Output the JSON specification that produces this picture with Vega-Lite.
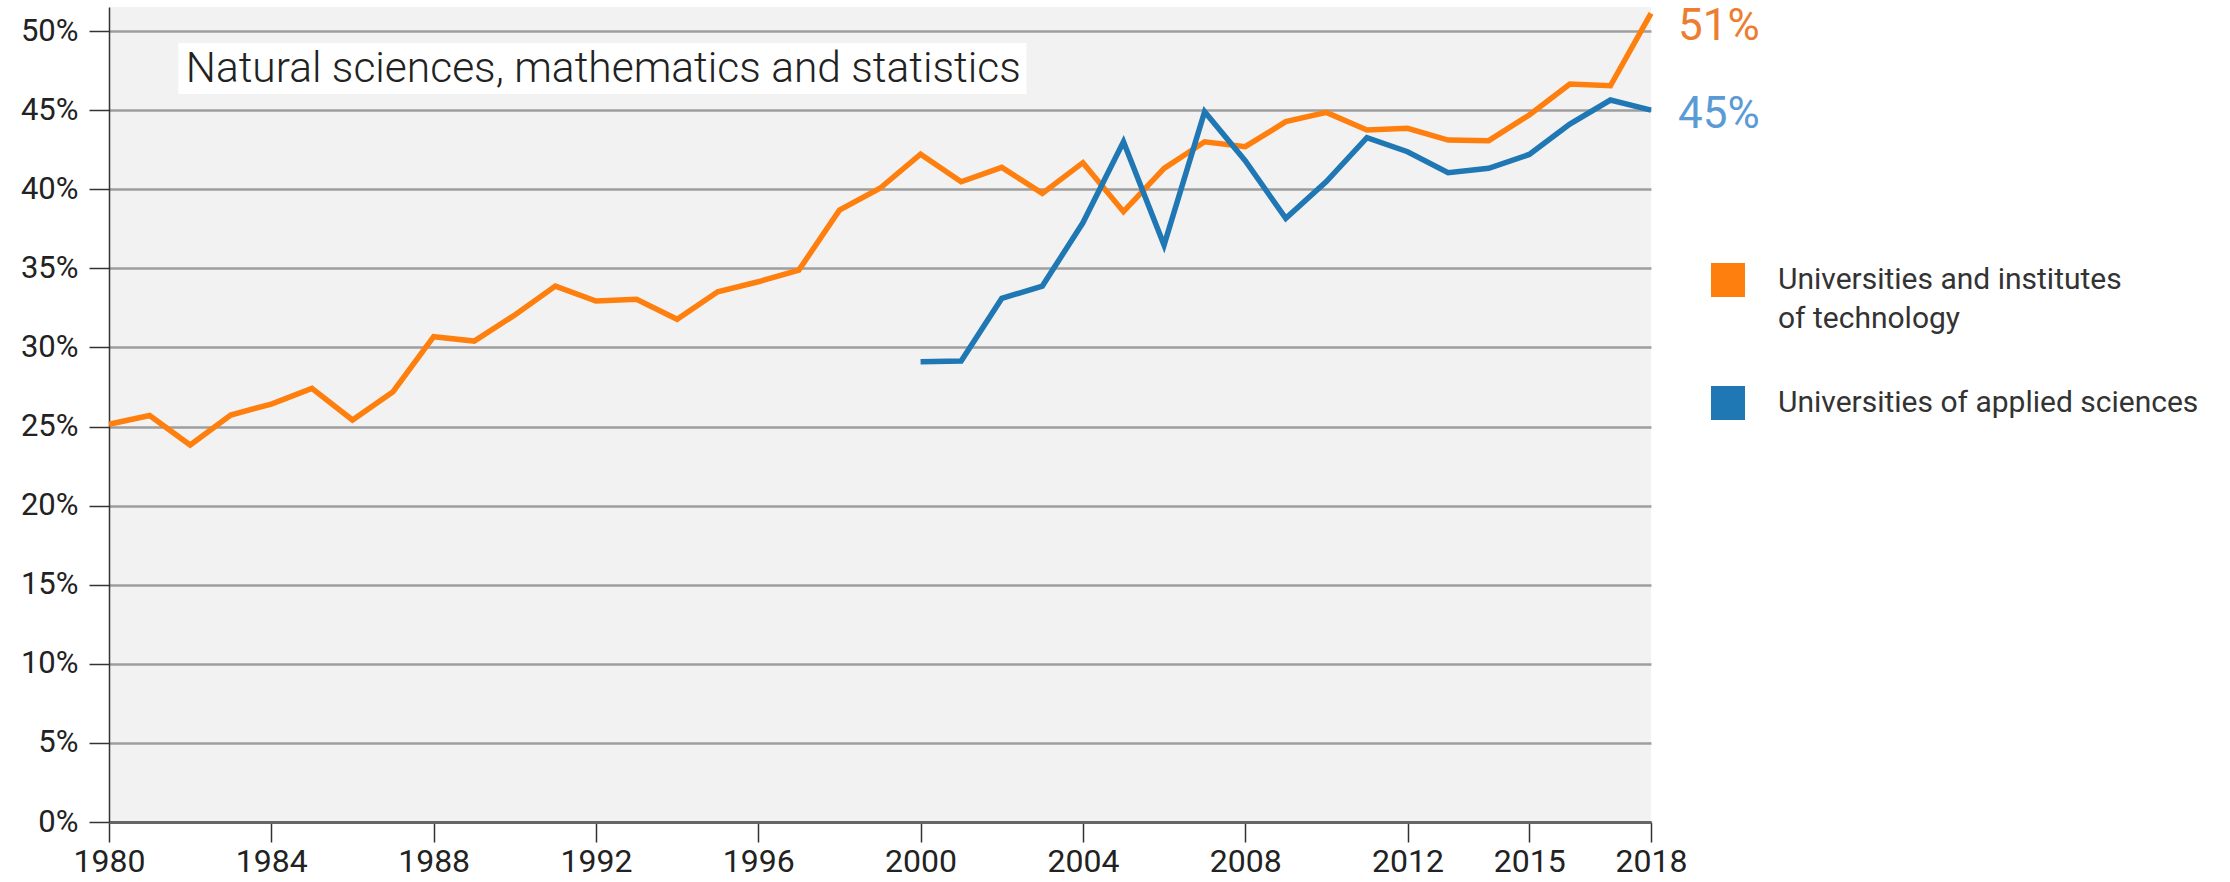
{
  "$schema": "https://vega.github.io/schema/vega-lite/v6.json",
  "width": 1542,
  "height": 815,
  "autosize": {"type": "none"},
  "padding": {"left": 109, "top": 7, "right": 579, "bottom": 60},
  "background": "white",
  "config": {
    "font": "Roboto",
    "view": {"fill": "#F2F2F2", "stroke": null},
    "style": {"guide-label": {"lineHeight": 39}}
  },
  "data": {
    "values": [
      {"year": 1980, "series": "Universities and institutes of technology", "share": 0.2514},
      {"year": 1981, "series": "Universities and institutes of technology", "share": 0.2570},
      {"year": 1982, "series": "Universities and institutes of technology", "share": 0.2383},
      {"year": 1983, "series": "Universities and institutes of technology", "share": 0.2573},
      {"year": 1984, "series": "Universities and institutes of technology", "share": 0.2642},
      {"year": 1985, "series": "Universities and institutes of technology", "share": 0.2741},
      {"year": 1986, "series": "Universities and institutes of technology", "share": 0.2541},
      {"year": 1987, "series": "Universities and institutes of technology", "share": 0.2720},
      {"year": 1988, "series": "Universities and institutes of technology", "share": 0.3068},
      {"year": 1989, "series": "Universities and institutes of technology", "share": 0.3040},
      {"year": 1990, "series": "Universities and institutes of technology", "share": 0.3205},
      {"year": 1991, "series": "Universities and institutes of technology", "share": 0.3388},
      {"year": 1992, "series": "Universities and institutes of technology", "share": 0.3293},
      {"year": 1993, "series": "Universities and institutes of technology", "share": 0.3305},
      {"year": 1994, "series": "Universities and institutes of technology", "share": 0.3178},
      {"year": 1995, "series": "Universities and institutes of technology", "share": 0.3352},
      {"year": 1996, "series": "Universities and institutes of technology", "share": 0.3415},
      {"year": 1997, "series": "Universities and institutes of technology", "share": 0.3489},
      {"year": 1998, "series": "Universities and institutes of technology", "share": 0.3868},
      {"year": 1999, "series": "Universities and institutes of technology", "share": 0.4006},
      {"year": 2000, "series": "Universities and institutes of technology", "share": 0.4222},
      {"year": 2001, "series": "Universities and institutes of technology", "share": 0.4047},
      {"year": 2002, "series": "Universities and institutes of technology", "share": 0.4138},
      {"year": 2003, "series": "Universities and institutes of technology", "share": 0.3974},
      {"year": 2004, "series": "Universities and institutes of technology", "share": 0.4168},
      {"year": 2005, "series": "Universities and institutes of technology", "share": 0.3858},
      {"year": 2006, "series": "Universities and institutes of technology", "share": 0.4132},
      {"year": 2007, "series": "Universities and institutes of technology", "share": 0.4300},
      {"year": 2008, "series": "Universities and institutes of technology", "share": 0.4269},
      {"year": 2009, "series": "Universities and institutes of technology", "share": 0.4427},
      {"year": 2010, "series": "Universities and institutes of technology", "share": 0.4486},
      {"year": 2011, "series": "Universities and institutes of technology", "share": 0.4374},
      {"year": 2012, "series": "Universities and institutes of technology", "share": 0.4385},
      {"year": 2013, "series": "Universities and institutes of technology", "share": 0.4311},
      {"year": 2014, "series": "Universities and institutes of technology", "share": 0.4307},
      {"year": 2015, "series": "Universities and institutes of technology", "share": 0.4469},
      {"year": 2016, "series": "Universities and institutes of technology", "share": 0.4665},
      {"year": 2017, "series": "Universities and institutes of technology", "share": 0.4654},
      {"year": 2018, "series": "Universities and institutes of technology", "share": 0.5112},
      {"year": 2000, "series": "Universities of applied sciences", "share": 0.2910},
      {"year": 2001, "series": "Universities of applied sciences", "share": 0.2914},
      {"year": 2002, "series": "Universities of applied sciences", "share": 0.3310},
      {"year": 2003, "series": "Universities of applied sciences", "share": 0.3388},
      {"year": 2004, "series": "Universities of applied sciences", "share": 0.3788},
      {"year": 2005, "series": "Universities of applied sciences", "share": 0.4300},
      {"year": 2006, "series": "Universities of applied sciences", "share": 0.3647},
      {"year": 2007, "series": "Universities of applied sciences", "share": 0.4490},
      {"year": 2008, "series": "Universities of applied sciences", "share": 0.4180},
      {"year": 2009, "series": "Universities of applied sciences", "share": 0.3816},
      {"year": 2010, "series": "Universities of applied sciences", "share": 0.4048},
      {"year": 2011, "series": "Universities of applied sciences", "share": 0.4326},
      {"year": 2012, "series": "Universities of applied sciences", "share": 0.4237},
      {"year": 2013, "series": "Universities of applied sciences", "share": 0.4104},
      {"year": 2014, "series": "Universities of applied sciences", "share": 0.4132},
      {"year": 2015, "series": "Universities of applied sciences", "share": 0.4220},
      {"year": 2016, "series": "Universities of applied sciences", "share": 0.4412},
      {"year": 2017, "series": "Universities of applied sciences", "share": 0.4564},
      {"year": 2018, "series": "Universities of applied sciences", "share": 0.4500}
    ]
  },
  "layer": [
    {
      "mark": {"type": "line", "strokeWidth": 5.5, "strokeJoin": "miter"},
      "encoding": {
        "x": {
          "field": "year",
          "type": "quantitative",
          "scale": {"domain": [1980, 2018], "nice": false, "zero": false},
          "axis": {
            "values": [1980, 1984, 1988, 1992, 1996, 2000, 2004, 2008, 2012, 2015, 2018],
            "format": "d",
            "title": null,
            "grid": false,
            "tickSize": 20,
            "tickColor": "#333333",
            "tickWidth": 1.5,
            "domainColor": "#666666",
            "domainWidth": 3,
            "labelFontSize": 32,
            "labelFontWeight": 400,
            "labelColor": "#222222",
            "labelPadding": 4,
            "labelFlush": false,
            "labelOverlap": false
          }
        },
        "y": {
          "field": "share",
          "type": "quantitative",
          "scale": {"domain": [0, 0.5152], "nice": false},
          "axis": {
            "values": [0, 0.05, 0.1, 0.15, 0.2, 0.25, 0.3, 0.35, 0.4, 0.45, 0.5],
            "format": ".0%",
            "title": null,
            "grid": true,
            "gridColor": "#9E9E9E",
            "gridWidth": 2.5,
            "tickSize": 20,
            "tickColor": "#333333",
            "tickWidth": 1.5,
            "domainColor": "#333333",
            "domainWidth": 1.5,
            "labelFontSize": 31,
            "labelFontWeight": 400,
            "labelColor": "#222222",
            "labelPadding": 11,
            "labelOverlap": false
          }
        },
        "color": {
          "field": "series",
          "type": "nominal",
          "scale": {
            "domain": ["Universities and institutes of technology", "Universities of applied sciences"],
            "range": ["#FF7F0E", "#1F77B4"]
          },
          "legend": {
            "orient": "none",
            "legendX": 1602,
            "legendY": 256,
            "title": null,
            "symbolType": "square",
            "symbolSize": 289,
            "symbolStrokeWidth": 17,
            "symbolOpacity": 1,
            "labelFontSize": 30,
            "labelColor": "#333333",
            "labelOffset": 33,
            "labelLimit": 700,
            "labelBaseline": "middle",
            "rowPadding": 26,
            "padding": 0,
            "labelExpr": "datum.label == 'Universities and institutes of technology' ? ['Universities and institutes', '\u00a0of technology'] : datum.label"
          }
        }
      }
    },
    {
      "data": {"values": [{}]},
      "mark": {"type": "rect", "color": "white"},
      "encoding": {
        "x": {"datum": 1981.71, "type": "quantitative"},
        "x2": {"datum": 2002.61},
        "y": {"datum": 0.4924, "type": "quantitative"},
        "y2": {"datum": 0.4602}
      }
    },
    {
      "data": {"values": [{}]},
      "mark": {
        "type": "text",
        "text": "Natural sciences, mathematics and statistics",
        "align": "left",
        "baseline": "middle",
        "fontSize": 42.5,
        "fontWeight": 300,
        "color": "#222222"
      },
      "encoding": {
        "x": {"datum": 1981.89, "type": "quantitative"},
        "y": {"datum": 0.4763, "type": "quantitative"}
      }
    },
    {
      "transform": [{"filter": "datum.year == 2018 && datum.series == 'Universities and institutes of technology'"}],
      "mark": {"type": "text", "align": "left", "baseline": "middle", "dx": 27, "dy": 14, "fontSize": 44, "color": "#ED7D31"},
      "encoding": {
        "x": {"field": "year", "type": "quantitative"},
        "y": {"field": "share", "type": "quantitative"},
        "text": {"field": "share", "type": "quantitative", "format": ".0%"}
      }
    },
    {
      "transform": [{"filter": "datum.year == 2018 && datum.series == 'Universities of applied sciences'"}],
      "mark": {"type": "text", "align": "left", "baseline": "middle", "dx": 27, "dy": 5, "fontSize": 44, "color": "#5B9BD5"},
      "encoding": {
        "x": {"field": "year", "type": "quantitative"},
        "y": {"field": "share", "type": "quantitative"},
        "text": {"field": "share", "type": "quantitative", "format": ".0%"}
      }
    }
  ]
}
